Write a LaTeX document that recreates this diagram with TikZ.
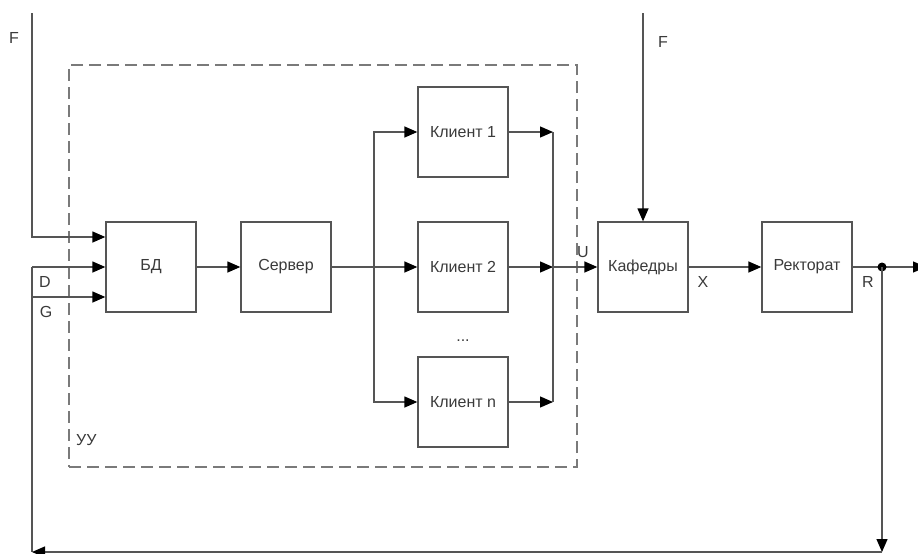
\documentclass[tikz,border=0pt]{standalone}
\usepackage{fontspec}
\setmainfont{Liberation Sans}
\usetikzlibrary{arrows.meta}
\definecolor{ln}{HTML}{555555}
\definecolor{tx}{HTML}{3A3A3A}
\definecolor{dsh}{HTML}{7A7A7A}
\begin{document}
\begin{tikzpicture}[x=1pt,y=-1pt,
  blk/.style={draw=ln,line width=1.3pt,minimum width=90pt,minimum height=90pt,inner sep=0pt,text=tx,font=\fontsize{16}{18}\selectfont},
  lbl/.style={text=tx,font=\fontsize{16}{18}\selectfont,inner sep=0pt},
  ln/.style={draw=ln,line width=1.3pt},
  arr/.style={ln,-{Triangle[length=13pt,width=11pt,color=black]}},
  dbox/.style={draw=dsh,line width=1.5pt,dash pattern=on 12pt off 6pt,minimum width=508pt,minimum height=402pt,inner sep=0pt}]
\useasboundingbox (0,0) rectangle (918,554);
% dashed control unit
\node[dbox] (yy) at (323,266) {};
\node[lbl,anchor=west] (yylbl) at (76,440) {УУ};
% blocks
\node[blk] (bd) at (151,267) {БД};
\node[blk] (srv) at (286,267) {Сервер};
\node[blk] (k1) at (463,132) {Клиент 1};
\node[blk] (k2) at (463,267) {Клиент 2};
\node[blk] (kn) at (463,402) {Клиент n};
\node[lbl] (dots) at (463,341) {...};
\node[blk] (kaf) at (643,267) {Кафедры};
\node[blk] (rek) at (807,267) {Ректорат};
% coordinates
\coordinate (f1) at (32,13);
\coordinate (f2) at (643,13);
\coordinate (dl) at (32,267);
\coordinate (gl) at (32,297);
\coordinate (bl) at (32,552);
\coordinate (sp) at (374,267);
\coordinate (mg) at (553,267);
\coordinate (dot) at (882,267);
\coordinate (br) at (882,552);
\coordinate (out) at (926,267);
% labels
\node[lbl] (fl1) at (14,38) {F};
\node[lbl] (fl2) at (663,42) {F};
\node[lbl] (dlb) at (45,282) {D};
\node[lbl] (glb) at (46,312) {G};
\node[lbl] (ulb) at (583,252) {U};
\node[lbl] (xlb) at (703,282) {X};
\node[lbl] (rlb) at (868,282) {R};
% connectors
\draw[arr] (f1) |- ([yshift=30pt]bd.west);
\draw[arr] (dl) -- (bd.west);
\draw[arr] (gl) -- ([yshift=-30pt]bd.west);
\draw[ln] (dl) -- (bl);
\draw[arr] (bd) -- (srv);
\draw[arr] (srv) -- (k2);
\draw[arr] (sp) |- (k1.west);
\draw[arr] (sp) |- (kn.west);
\draw[arr] (k1.east) -- (k1.east -| mg);
\draw[arr] (k2.east) -- (mg);
\draw[arr] (kn.east) -- (kn.east -| mg);
\draw[ln] (k1.east -| mg) -- (kn.east -| mg);
\draw[arr] (mg) -- (kaf.west);
\draw[arr] (f2) -- (kaf.north);
\draw[arr] (kaf) -- (rek);
\draw[arr] (rek.east) -- (out);
\fill[black] (dot) circle (4.5pt);
\draw[arr] (dot) -- (br);
\draw[arr] (br) -- (bl);
\end{tikzpicture}
\end{document}
